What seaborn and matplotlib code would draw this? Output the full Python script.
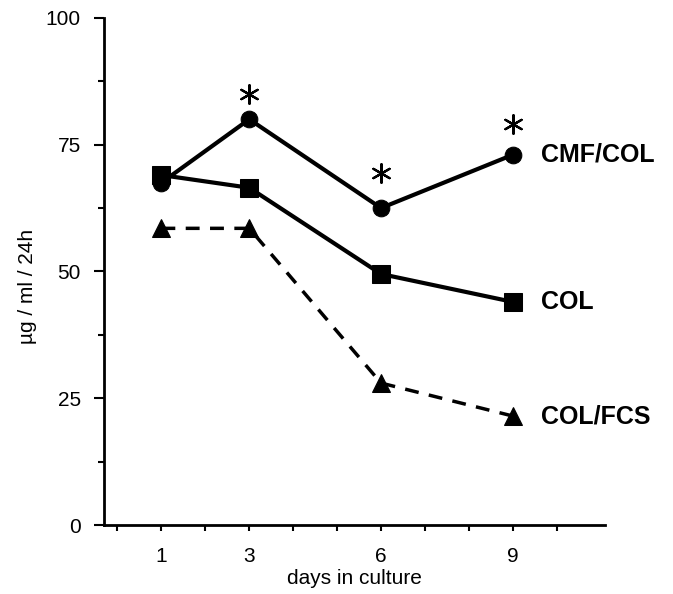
import numpy as np
import pandas as pd
import seaborn as sns
import matplotlib.pyplot as plt
from matplotlib.ticker import MultipleLocator, FixedLocator

sns.set_style('ticks', {'axes.edgecolor': 'black', 'text.color': 'black',
                        'axes.labelcolor': 'black', 'xtick.color': 'black',
                        'ytick.color': 'black'})
plt.rcParams['font.family'] = ['Liberation Sans', 'DejaVu Sans']

days = [1, 3, 6, 9]
cmf_col = [67.5, 80, 62.5, 73]
col = [69, 66.5, 49.5, 44]
col_fcs = [58.5, 58.5, 28, 21.5]
star_days = [3, 6, 9]
star_vals = [85, 69.5, 79]
series_names = ['CMF/COL', 'COL', 'COL/FCS']

fig = plt.figure(figsize=(6.73, 5.94), dpi=100)
ax = fig.add_axes([0.155, 0.116, 0.744, 0.854])

sns.lineplot(x=days, y=col, ax=ax, color='black', lw=3, marker='s', ms=13,
             markeredgecolor='black')
sns.lineplot(x=days, y=cmf_col, ax=ax, color='black', lw=3, marker='o', ms=12,
             markeredgecolor='black')
sns.lineplot(x=days, y=col_fcs, ax=ax, color='black', lw=2.5, marker='^', ms=13,
             markeredgecolor='black', linestyle=(0, (4, 3)))
# significance stars (X with a horizontal bar)
sns.scatterplot(x=star_days, y=star_vals, ax=ax, color='black', marker=(6, 2, 0),
                s=180, linewidth=1.6)

# series labels at the right end
for name, vals in zip(series_names, [cmf_col, col, col_fcs]):
    ax.text(days[-1] + 0.65, vals[-1], name, fontsize=18, fontweight='bold',
            va='center', ha='left', color='black')

ax.set_xlim(-0.3, 11.1)
ax.set_ylim(0, 100)
ax.xaxis.set_major_locator(FixedLocator(days))
ax.xaxis.set_minor_locator(FixedLocator([0, 2, 4, 5, 7, 8, 10]))
ax.yaxis.set_major_locator(MultipleLocator(25))
ax.yaxis.set_minor_locator(MultipleLocator(12.5))
ax.tick_params(axis='both', which='both', colors='black')
ax.tick_params(axis='both', which='major', labelsize=15, width=1.5)
ax.tick_params(axis='y', which='major', length=7, pad=10)
ax.tick_params(axis='y', which='minor', length=4, width=1.5)
ax.tick_params(axis='x', which='major', length=4, pad=12)
ax.tick_params(axis='x', which='minor', length=4, width=1.5)
ax.spines['top'].set_visible(False)
ax.spines['right'].set_visible(False)
ax.spines['left'].set_linewidth(2)
ax.spines['bottom'].set_linewidth(2)

ax.set_xlabel('days in culture', fontsize=15, labelpad=2, color='black')
ax.set_ylabel('µg / ml / 24h', fontsize=15, labelpad=14, color='black')
ax.yaxis.set_label_coords(-0.135, 0.47)

fig.savefig('out.png', dpi=100)
